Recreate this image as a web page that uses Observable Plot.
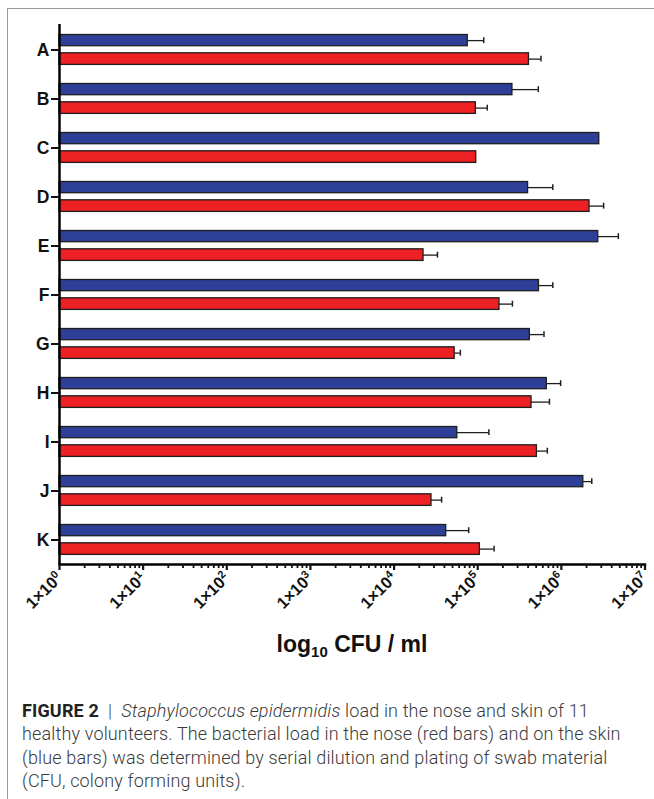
<!DOCTYPE html>
<html>
<head>
<meta charset="utf-8">
<script src="https://cdn.jsdelivr.net/npm/d3@7"></script>
<script src="https://cdn.jsdelivr.net/npm/@observablehq/plot@0.6"></script>
<style>
  html, body { margin: 0; padding: 0; background: #fff; }
  #fig { position: relative; width: 654px; height: 799px; overflow: hidden; font-family: "Liberation Sans", Arial, sans-serif; }
  #border { position: absolute; left: 7px; top: 8px; width: 720px; height: 900px; border: 1px solid #9a9a9a; }
  #chart { position: absolute; left: 0; top: 0; }
  #xlabel { position: absolute; left: 59px; width: 586px; top: 631px; text-align: center; font-weight: bold; font-size: 23px; color: #111; }
  #xlabel sub { font-size: 15px; vertical-align: -5px; line-height: 0; }
  #caption { position: absolute; left: 22px; top: 699px; width: 640px; font-family: Roboto, "Liberation Sans", sans-serif; font-weight: 300; font-size: 18px; letter-spacing: 0.15px; line-height: 23.3px; color: #3a3a3a; white-space: nowrap; }
  #caption b { font-weight: bold; color: #222; }
</style>
</head>
<body>
<div id="fig">
  <div id="border"></div>
  <div id="chart"></div>
  <div id="xlabel">log<sub>10</sub> CFU / ml</div>
  <div id="caption"><b>FIGURE 2</b> &nbsp;|&nbsp; <i>Staphylococcus epidermidis</i> load in the nose and skin of 11<br>healthy volunteers. The bacterial load in the nose (red bars) and on the skin<br>(blue bars) was determined by serial dilution and plating of swab material<br>(CFU, colony forming units).</div>
</div>
<script>
// ---- data (CFU / ml) ----
const categories = ["A", "B", "C", "D", "E", "F", "G", "H", "I", "J", "K"];
// skin (blue bars): mean and upper end of error bar
const skinMean  = [7.6e4, 2.6e5, 2.84e6, 4.0e5, 2.76e6, 5.4e5, 4.2e5, 6.7e5, 5.7e4, 1.83e6, 4.2e4];
const skinUpper = [1.18e5, 5.3e5, null, 7.9e5, 4.8e6, 7.9e5, 6.2e5, 9.8e5, 1.36e5, 2.31e6, 7.8e4];
// nose (red bars): mean and upper end of error bar
const noseMean  = [4.1e5, 9.5e4, 9.6e4, 2.17e6, 2.25e4, 1.82e5, 5.3e4, 4.4e5, 5.1e5, 2.8e4, 1.06e5];
const noseUpper = [5.7e5, 1.3e5, null, 3.2e6, 3.3e4, 2.6e5, 6.2e4, 7.2e5, 6.8e5, 3.7e4, 1.57e5];
// x axis ticks: value, mantissa text and exponent
const majorTicks = [1, 10, 100, 1e3, 1e4, 1e5, 1e6, 1e7];
const tickBase = "1×10";
const tickExponents = ["0", "1", "2", "3", "4", "5", "6", "7"];

const blue = "#2e3f98";
const red = "#ed2024";
const edge = "#1e1e1e";

const rows = categories.map((c, i) => ({
  cat: c,
  skin: skinMean[i], skinHi: skinUpper[i],
  nose: noseMean[i], noseHi: noseUpper[i]
}));
const skinErr = rows.filter(d => d.skinHi != null);
const noseErr = rows.filter(d => d.noseHi != null);

const minorTicks = [];
for (let e = 0; e < 7; e++) for (let m = 2; m <= 9; m++) minorTicks.push(m * Math.pow(10, e));

const W = 654, H = 625, mT = 24, mB = 61;
const band = (H - mT - mB) / categories.length;

const chart = Plot.plot({
  width: W,
  height: H,
  marginLeft: 59,
  marginRight: 9.5,
  marginTop: mT,
  marginBottom: mB,
  style: { fontFamily: "'Liberation Sans', Arial, sans-serif", color: "#111", background: "transparent" },
  x: { type: "log", domain: [1, 1e7], label: null },
  y: { type: "band", domain: categories, padding: 0, label: null },
  marks: [
    Plot.barX(rows, { y: "cat", x1: 1, x2: "skin", fill: blue, stroke: edge, strokeWidth: 1.3,
      insetTop: 9.5, insetBottom: band - 20.8 }),
    Plot.barX(rows, { y: "cat", x1: 1, x2: "nose", fill: red, stroke: edge, strokeWidth: 1.3,
      insetTop: 27.8, insetBottom: band - 39.5 }),
    Plot.ruleY(skinErr, { y: "cat", x1: "skin", x2: "skinHi", dy: 15.15 - band / 2, stroke: edge, strokeWidth: 1.3 }),
    Plot.tickX(skinErr, { y: "cat", x: "skinHi", stroke: edge, strokeWidth: 1.5,
      insetTop: 12.2, insetBottom: band - 18.2 }),
    Plot.ruleY(noseErr, { y: "cat", x1: "nose", x2: "noseHi", dy: 33.65 - band / 2, stroke: edge, strokeWidth: 1.3 }),
    Plot.tickX(noseErr, { y: "cat", x: "noseHi", stroke: edge, strokeWidth: 1.5,
      insetTop: 30.7, insetBottom: band - 36.7 }),
    Plot.ruleX([1], { stroke: "#000", strokeWidth: 2.5 }),
    Plot.frame({ anchor: "bottom", stroke: "#000", strokeWidth: 2.5 }),
    Plot.axisY({ tickSize: 8, tickPadding: 2, fontSize: 17.5, fontWeight: "bold", strokeWidth: 2, label: null }),
    Plot.axisX({ ticks: minorTicks, tickSize: 4, tickFormat: () => "", strokeWidth: 1.8, label: null }),
    Plot.axisX({ ticks: majorTicks, tickSize: 6, tickPadding: 5, tickRotate: -45,
      tickFormat: d => tickBase + "^" + tickExponents[majorTicks.indexOf(d)], fontSize: 16, fontWeight: "bold",
      strokeWidth: 2.2, label: null, ariaLabel: "major-x" })
  ]
});
document.getElementById("chart").appendChild(chart);

// turn "1×10^n" tick labels into text with a superscript tspan
d3.select(chart).selectAll("text").each(function () {
  const t = this.textContent;
  if (t.includes("^")) {
    const [base, exp] = t.split("^");
    const sel = d3.select(this);
    sel.text(base).style("font-size", "16.5px").style("font-weight", "bold");
    sel.append("tspan").attr("dy", "-0.55em").style("font-size", "11px").text(exp);
  }
});
// y-axis category labels bold and large
d3.select(chart).selectAll("text").each(function () {
  if (categories.includes(this.textContent)) d3.select(this).style("font-size", "17.5px").style("font-weight", "bold");
});
</script>
</body>
</html>
